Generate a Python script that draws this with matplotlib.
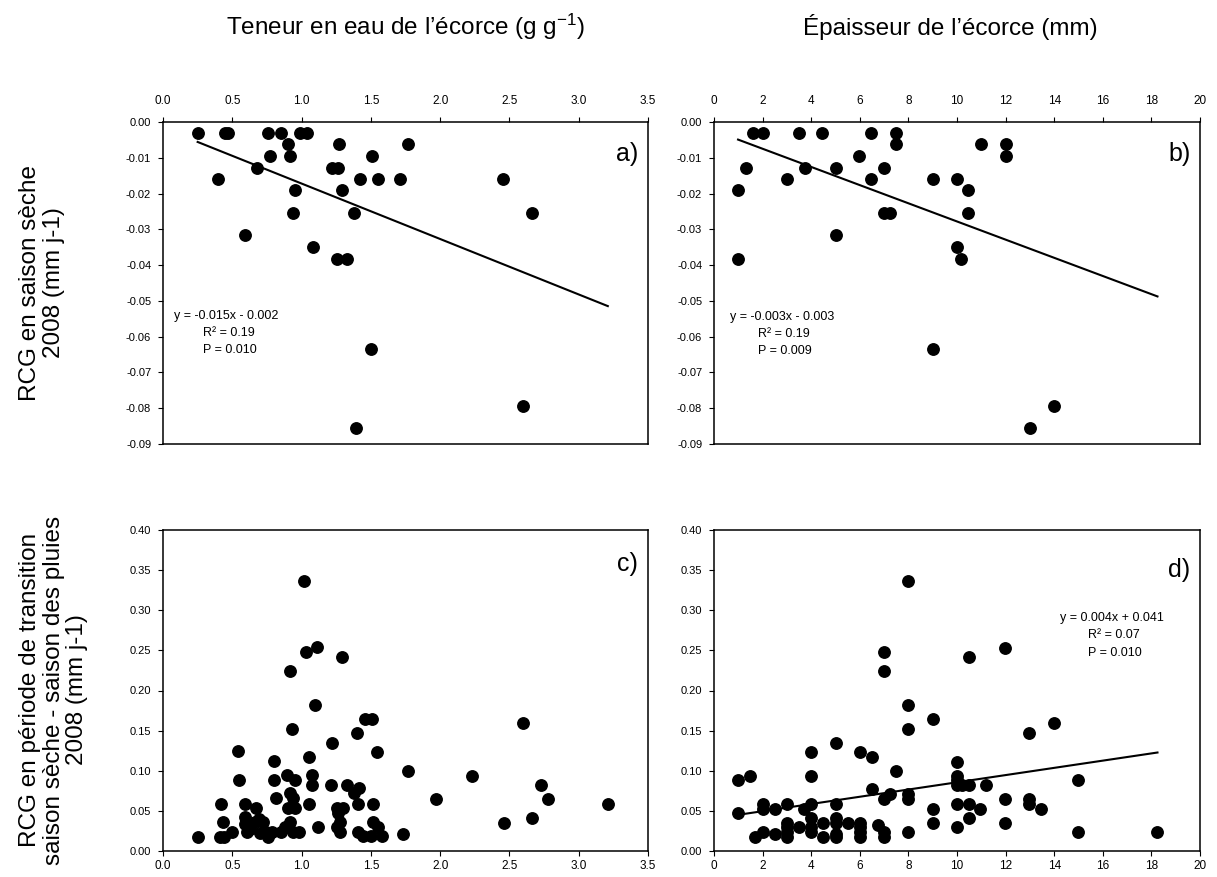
import matplotlib
matplotlib.use('Agg')
import matplotlib.pyplot as plt
import numpy as np
from matplotlib.ticker import FormatStrFormatter

plt.rcParams['font.family'] = ['Liberation Sans', 'DejaVu Sans']
plt.rcParams['mathtext.fontset'] = 'custom'
plt.rcParams['mathtext.rm'] = 'Liberation Sans'
plt.rcParams['mathtext.it'] = 'Liberation Sans:italic'

# titles / labels
col_titles = ["Teneur en eau de l\u2019\u00e9corce (g g$^{-1}$)", "\u00c9paisseur de l\u2019\u00e9corce (mm)"]
row_labels = ["RCG en saison s\u00e8che\n2008 (mm j-1)",
              "RCG en p\u00e9riode de transition\nsaison s\u00e8che - saison des pluies\n2008 (mm j-1)"]

# a) water content vs dry season RCG
x_a = [0.25, 0.45, 0.47, 0.76, 0.85, 0.99, 1.04, 0.90, 1.27, 1.77, 0.77, 0.92, 1.51,
       0.68, 1.22, 1.26, 0.40, 1.42, 1.55, 1.71, 2.45, 0.95, 1.29, 0.94, 1.375, 2.66,
       0.59, 1.08, 1.255, 1.33, 1.50, 2.60, 1.39]
y_a = [-0.0032, -0.0032, -0.0032, -0.0032, -0.0032, -0.0032, -0.0032, -0.0062, -0.0062,
       -0.0062, -0.0095, -0.0095, -0.0095, -0.0128, -0.0128, -0.0128, -0.0158, -0.0158,
       -0.0158, -0.0158, -0.0158, -0.019, -0.019, -0.0254, -0.0254, -0.0254, -0.0316,
       -0.0349, -0.0382, -0.0382, -0.0635, -0.0793, -0.0856]

# b) bark thickness vs dry season RCG
x_b = [1.61, 2.0, 3.5, 4.46, 6.48, 7.5, 7.5, 11.0, 12.0, 12.0, 5.98, 1.30, 3.73, 5.0,
       7.0, 2.99, 6.48, 9.02, 9.99, 1.0, 10.47, 7.0, 7.26, 10.47, 5.0, 9.98, 1.0, 10.16,
       9.02, 14.0, 13.0]
y_b = [-0.0032, -0.0032, -0.0032, -0.0032, -0.0032, -0.0032, -0.0062, -0.0062, -0.0062,
       -0.0095, -0.0095, -0.0128, -0.0128, -0.0128, -0.0128, -0.0158, -0.0158, -0.0158,
       -0.0158, -0.019, -0.019, -0.0254, -0.0254, -0.0254, -0.0316, -0.0349, -0.0382,
       -0.0382, -0.0635, -0.0793, -0.0856]

# c) water content vs transition RCG
x_c = [0.25, 0.413, 0.44, 0.42, 0.435, 0.50, 0.54, 0.55, 0.593, 0.593, 0.593, 0.605,
       0.665, 0.67, 0.69, 0.70, 0.72, 0.76, 0.79, 0.80, 0.80, 0.814, 0.855, 0.88, 0.90,
       0.895, 0.92, 0.93, 0.92, 0.94, 0.917, 0.953, 0.956, 0.94, 0.985, 1.02, 1.03, 1.11,
       1.10, 1.056, 1.076, 1.076, 1.056, 1.12, 1.22, 1.21, 1.253, 1.30, 1.26, 1.28, 1.253,
       1.28, 1.29, 1.33, 1.38, 1.414, 1.41, 1.40, 1.46, 1.51, 1.545, 1.41, 1.44, 1.50,
       1.517, 1.517, 1.55, 1.58, 1.73, 1.77, 1.97, 2.23, 2.46, 2.60, 2.66, 2.73, 2.78,
       3.21, 0.74, 0.63]
y_c = [0.018, 0.018, 0.018, 0.059, 0.036, 0.024, 0.124, 0.089, 0.059, 0.0426, 0.034,
       0.024, 0.036, 0.054, 0.040, 0.022, 0.036, 0.018, 0.024, 0.1125, 0.089, 0.0657,
       0.024, 0.030, 0.054, 0.0947, 0.224, 0.152, 0.072, 0.0657, 0.0366, 0.089, 0.054,
       0.024, 0.024, 0.336, 0.248, 0.254, 0.182, 0.1175, 0.0947, 0.0825, 0.0586, 0.030,
       0.135, 0.0825, 0.054, 0.054, 0.047, 0.0366, 0.030, 0.024, 0.242, 0.0825, 0.072,
       0.078, 0.0586, 0.147, 0.164, 0.164, 0.123, 0.024, 0.019, 0.019, 0.0586, 0.0366,
       0.030, 0.019, 0.021, 0.100, 0.065, 0.0935, 0.035, 0.159, 0.0415, 0.082, 0.065,
       0.059, 0.024, 0.028]

# d) bark thickness vs transition RCG
x_d = [7.97, 6.98, 6.98, 11.99, 10.49, 7.97, 7.97, 9.0, 13.99, 12.98, 5.02, 4.0, 5.99,
       6.5, 10.0, 7.49, 0.99, 1.48, 4.0, 10.0, 10.0, 15.0, 10.0, 10.2, 10.49, 11.2, 6.5,
       7.26, 7.97, 6.98, 7.97, 11.99, 12.98, 12.98, 13.47, 10.96, 10.49, 10.0, 9.0, 0.99,
       2.02, 2.02, 2.52, 3.0, 4.0, 3.71, 5.02, 10.49, 9.0, 11.99, 10.0, 7.97, 15.0, 18.25,
       1.68, 2.02, 2.52, 3.0, 3.0, 3.0, 3.0, 3.5, 4.0, 4.0, 4.0, 4.47, 4.47, 5.02, 5.02,
       5.02, 5.02, 5.51, 5.99, 5.99, 5.99, 5.99, 6.75, 6.98, 6.98]
y_d = [0.336, 0.2475, 0.224, 0.2535, 0.242, 0.182, 0.1525, 0.164, 0.159, 0.147, 0.135,
       0.123, 0.123, 0.117, 0.1115, 0.100, 0.088, 0.0937, 0.0937, 0.0937, 0.088, 0.088,
       0.082, 0.082, 0.082, 0.082, 0.0767, 0.0709, 0.0709, 0.0647, 0.0647, 0.0647, 0.0647,
       0.0589, 0.0526, 0.0526, 0.0589, 0.0589, 0.0526, 0.0468, 0.0589, 0.0526, 0.0526,
       0.0589, 0.0589, 0.0526, 0.0589, 0.0415, 0.0352, 0.0352, 0.0294, 0.0236, 0.0236,
       0.0236, 0.018, 0.0236, 0.021, 0.0352, 0.0294, 0.0236, 0.018, 0.0294, 0.0415, 0.0294,
       0.0236, 0.0352, 0.018, 0.0415, 0.0352, 0.021, 0.018, 0.0352, 0.0352, 0.0294, 0.0236,
       0.018, 0.032, 0.0236, 0.018]

# regression lines (slope, intercept) as drawn
fit_a = (-0.0155, -0.0017)
fit_b = (-0.00254, -0.0024)
fit_d = (0.0045, 0.0406)

eq_a = ["y = -0.015x - 0.002", "R\u00b2 = 0.19", "P = 0.010"]
eq_b = ["y = -0.003x - 0.003", "R\u00b2 = 0.19", "P = 0.009"]
eq_d = ["y = 0.004x + 0.041", "R\u00b2 = 0.07", "P = 0.010"]

W, H = 1217, 877
fig = plt.figure(figsize=(W / 100, H / 100), dpi=100)

ax_a = fig.add_axes([163 / W, 433 / H, 485 / W, 322 / H])
ax_b = fig.add_axes([714 / W, 433 / H, 486 / W, 322 / H])
ax_c = fig.add_axes([163 / W, 26 / H, 485 / W, 321 / H])
ax_d = fig.add_axes([714 / W, 26 / H, 486 / W, 321 / H])


def style(ax, xmax, xstep, ylim, ystep, top):
    ax.set_xlim(0, xmax)
    ax.set_ylim(*ylim)
    ax.set_xticks(np.arange(0, xmax + xstep / 2, xstep))
    yt = np.round(np.arange(ylim[0], ylim[1] + ystep / 2, ystep), 3) + 0.0
    yt[np.abs(yt) < 1e-9] = 0.0
    ax.set_yticks(yt)
    ax.xaxis.set_major_formatter(FormatStrFormatter('%.1f' if xstep < 1 else '%d'))
    ax.yaxis.set_major_formatter(FormatStrFormatter('%.2f'))
    for s in ax.spines.values():
        s.set_linewidth(1.1)
    ax.tick_params(axis='y', direction='out', length=3.5, width=0.8, labelsize=8, pad=5)
    if top:
        ax.xaxis.tick_top()
        ax.tick_params(axis='x', direction='out', length=3.5, width=0.8, labelsize=8.5,
                       pad=7, top=True, bottom=False)
    else:
        ax.tick_params(axis='x', direction='out', length=3.5, width=0.8, labelsize=8.5,
                       pad=3)


def eq_text(ax, lines, x0, x1, y0, dy):
    ax.text(x0, y0, lines[0], transform=ax.transAxes, fontsize=9, va='center', ha='left')
    ax.text(x1, y0 - dy, lines[1], transform=ax.transAxes, fontsize=9, va='center', ha='left')
    ax.text(x1, y0 - 2 * dy, lines[2], transform=ax.transAxes, fontsize=9, va='center', ha='left')


ms = 68

# a
ax_a.scatter(x_a, y_a, s=ms, color='black', zorder=3)
lx = np.array([min(x_c), max(x_c)])
ax_a.plot(lx, fit_a[0] * lx + fit_a[1], color='black', lw=1.5)
style(ax_a, 3.5, 0.5, (-0.09, 0.0), 0.01, True)
ax_a.text(0.98, 0.9, "a)", transform=ax_a.transAxes, fontsize=18, ha='right', va='center')
eq_text(ax_a, eq_a, 0.023, 0.082, 0.397, 0.053)

# b
ax_b.scatter(x_b, y_b, s=ms, color='black', zorder=3)
lx = np.array([min(x_d), max(x_d)])
ax_b.plot(lx, fit_b[0] * lx + fit_b[1], color='black', lw=1.5)
style(ax_b, 20, 2, (-0.09, 0.0), 0.01, True)
ax_b.text(0.98, 0.9, "b)", transform=ax_b.transAxes, fontsize=18, ha='right', va='center')
eq_text(ax_b, eq_b, 0.033, 0.09, 0.394, 0.053)

# c
ax_c.scatter(x_c, y_c, s=ms, color='black', zorder=3)
style(ax_c, 3.5, 0.5, (0.0, 0.40), 0.05, False)
ax_c.text(0.98, 0.895, "c)", transform=ax_c.transAxes, fontsize=18, ha='right', va='center')

# d
ax_d.scatter(x_d, y_d, s=ms, color='black', zorder=3)
lx = np.array([min(x_d), max(x_d)])
ax_d.plot(lx, fit_d[0] * lx + fit_d[1], color='black', lw=1.5)
style(ax_d, 20, 2, (0.0, 0.40), 0.05, False)
ax_d.text(0.98, 0.875, "d)", transform=ax_d.transAxes, fontsize=18, ha='right', va='center')
eq_text(ax_d, eq_d, 0.712, 0.77, 0.726, 0.054)

# column titles and row labels
fig.text(406 / W, 1 - 27 / H, col_titles[0], fontsize=17.5, ha='center', va='center')
fig.text(950 / W, 1 - 27 / H, col_titles[1], fontsize=17.5, ha='center', va='center')
fig.text(19 / W, 1 - 283 / H, row_labels[0], fontsize=17.5, rotation=90, ha='left',
         va='center', multialignment='center', linespacing=1.1)
fig.text(19 / W, 1 - 690 / H, row_labels[1], fontsize=17.5, rotation=90, ha='left',
         va='center', multialignment='center', linespacing=1.1)

fig.savefig('out.png', dpi=100)
